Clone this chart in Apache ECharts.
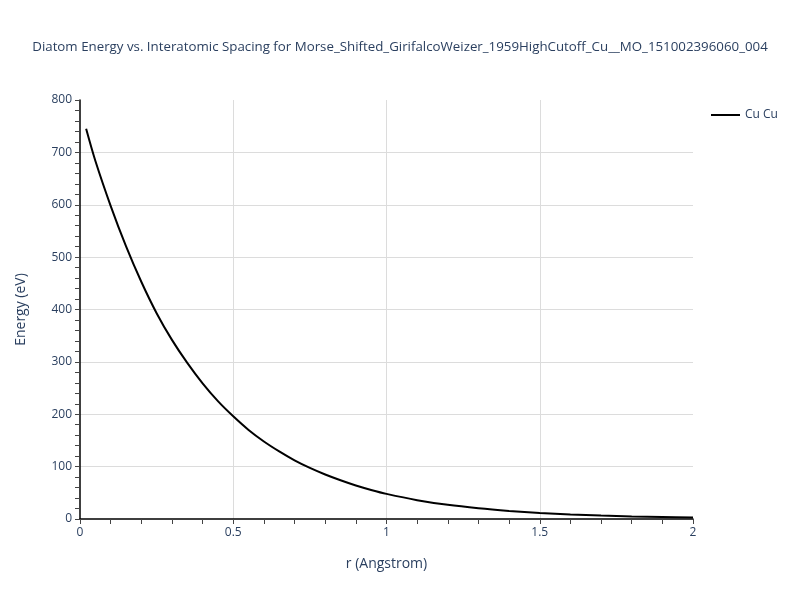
<!doctype html>
<html lang="en">
  <head>
    <meta charset="utf-8">
    <title>Diatom Energy</title>
    <script src="https://cdn.jsdelivr.net/npm/echarts@6/dist/echarts.min.js"></script>
    <style>
      html, body { margin: 0; padding: 0; background: #fff; }
      #container { width: 800px; height: 600px; }
    </style>
  </head>
  <body>
    <div id="container"></div>
    <script type="text/javascript">
      // values
      var rVals = [0.02, 0.05, 0.1, 0.15, 0.2, 0.25, 0.3, 0.35, 0.4, 0.45, 0.5,
                   0.55, 0.6, 0.65, 0.7, 0.75, 0.8, 0.85, 0.9, 0.95, 1.0,
                   1.1, 1.2, 1.3, 1.4, 1.5, 1.6, 1.7, 1.8, 1.9, 2.0];
      var energyVals = [745, 684, 598, 521, 453, 393, 342, 298, 259, 225, 196,
                        170, 148, 129, 112, 97.5, 85, 74, 64, 55.5, 48,
                        36, 27, 20.5, 15.5, 11.5, 8.5, 6.5, 5, 4, 3];
      var seriesName = 'Cu Cu';
      var titleText = 'Diatom Energy vs. Interatomic Spacing for Morse_Shifted_GirifalcoWeizer_1959HighCutoff_Cu__MO_151002396060_004';

      var txt = '#2a3f5f';
      var font = '"Open Sans", verdana, arial, sans-serif';

      var dom = document.getElementById('container');
      var myChart = echarts.init(dom);

      var lineData = rVals.map(function (r, i) { return [r, energyVals[i]]; });

      var option = {
        animation: false,
        backgroundColor: '#fff',
        title: {
          text: titleText,
          left: 'center',
          top: 36,
          textStyle: { color: txt, fontSize: 13.3, fontWeight: 'normal', fontFamily: font }
        },
        legend: {
          left: 706,
          top: 104,
          icon: 'rect',
          itemWidth: 29,
          itemHeight: 2,
          itemGap: 6,
          textStyle: { color: txt, fontSize: 12, fontFamily: font },
          data: [seriesName]
        },
        grid: { left: 80, right: 107, top: 100, bottom: 81, containLabel: false },
        xAxis: {
          type: 'value',
          min: 0, max: 2, interval: 0.5,
          name: 'r (Angstrom)',
          nameLocation: 'middle',
          nameGap: 38,
          nameTextStyle: { color: txt, fontSize: 14, fontFamily: font },
          axisLine: { show: true, lineStyle: { color: '#000', width: 1.5 } },
          axisTick: { show: true, length: 5, lineStyle: { color: '#444' } },
          minorTick: { show: true, splitNumber: 5, length: 5, lineStyle: { color: '#444' } },
          axisLabel: { color: txt, fontSize: 12, fontFamily: font, margin: 8 },
          splitLine: { show: true, showMinLine: false, showMaxLine: false, lineStyle: { color: '#dcdcdc', width: 1 } }
        },
        yAxis: {
          type: 'value',
          min: 0, max: 800, interval: 100,
          name: 'Energy (eV)',
          nameLocation: 'middle',
          nameGap: 52,
          nameTextStyle: { color: txt, fontSize: 14, fontFamily: font },
          axisLine: { show: true, lineStyle: { color: '#000', width: 1.5 } },
          axisTick: { show: true, length: 5, lineStyle: { color: '#444' } },
          minorTick: { show: true, splitNumber: 5, length: 5, lineStyle: { color: '#444' } },
          axisLabel: { color: txt, fontSize: 12, fontFamily: font, margin: 8 },
          splitLine: { show: true, showMinLine: false, showMaxLine: false, lineStyle: { color: '#dcdcdc', width: 1 } }
        },
        series: [{
          name: seriesName,
          type: 'line',
          showSymbol: false,
          smooth: 0.3,
          lineStyle: { color: '#000', width: 2 },
          itemStyle: { color: '#000' },
          data: lineData
        }]
      };

      if (option && typeof option === 'object') {
        myChart.setOption(option, true);
      }
    </script>
  </body>
</html>
